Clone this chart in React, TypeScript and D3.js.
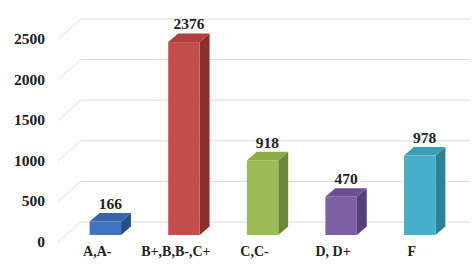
import React from 'react';
import * as d3 from 'd3';

const categories = ['A,A-', 'B+,B,B-,C+', 'C,C-', 'D, D+', 'F'];
const values = [166, 2376, 918, 470, 978];
const yTicks = [0, 500, 1000, 1500, 2000, 2500];

const front = ['#3f72bf', '#c44d4b', '#9cbd55', '#7e5fa3', '#45afc9'];
const top = ['#3566ae', '#b03f3d', '#8aab45', '#6d4f91', '#3a9db6'];
const side = ['#2a4f86', '#8a2f2d', '#6a8733', '#56407a', '#2e7e94'];

const W = 475;
const H = 266;
const depth = { dx: 23, dy: -20 };
const fFront = 0.35;
const fBack = 0.78;

const App = () => {
  const x = d3.scaleBand<string>().domain(categories).range([58, 451]).paddingInner(0.6).paddingOuter(0.3);
  const y = d3.scaleLinear().domain([0, 2500]).range([242, 39]);

  const ox1 = depth.dx * fFront, oy1 = depth.dy * fFront;
  const ox2 = depth.dx * fBack, oy2 = depth.dy * fBack;
  const bw = x.bandwidth();

  return (
    <svg width={W} height={H} style={{ position: 'absolute', left: 0, top: 0, background: '#fff' }}>
      {yTicks.map((t) => (
        <g key={t}>
          <line x1={58} y1={y(t)} x2={58 + depth.dx} y2={y(t) + depth.dy} stroke="#dcdcdc" strokeWidth={1} />
          <line x1={58 + depth.dx} y1={y(t) + depth.dy} x2={470} y2={y(t) + depth.dy} stroke="#dcdcdc" strokeWidth={1} />
          <text x={45} y={y(t) + 5} textAnchor="end" fontFamily="Liberation Serif" fontWeight="bold" fontSize={15.5} fill="#222">
            {t}
          </text>
        </g>
      ))}
      {categories.map((c, i) => {
        const x0 = (x(c) as number) + ox1;
        const x1 = x0 + bw;
        const yb = y(0) + oy1;
        const yt = y(values[i]) + oy1;
        const ddx = ox2 - ox1, ddy = oy2 - oy1;
        return (
          <g key={c}>
            <polygon points={`${x1},${yb} ${x1 + ddx},${yb + ddy} ${x1 + ddx},${yt + ddy} ${x1},${yt}`} fill={side[i]} />
            <polygon points={`${x0},${yt} ${x1},${yt} ${x1 + ddx},${yt + ddy} ${x0 + ddx},${yt + ddy}`} fill={top[i]} />
            <rect x={x0} y={yt} width={bw} height={yb - yt} fill={front[i]} />
            <text x={x0 + bw / 2 + ddx / 2} y={yt + ddy - 4} textAnchor="middle" fontFamily="Liberation Serif" fontWeight="bold" fontSize={15.5} fill="#222">
              {values[i]}
            </text>
            <text x={(x(c) as number) + bw / 2} y={256} textAnchor="middle" fontFamily="Liberation Serif" fontWeight="bold" fontSize={14} fill="#222">
              {c}
            </text>
          </g>
        );
      })}
    </svg>
  );
};

export default App;
